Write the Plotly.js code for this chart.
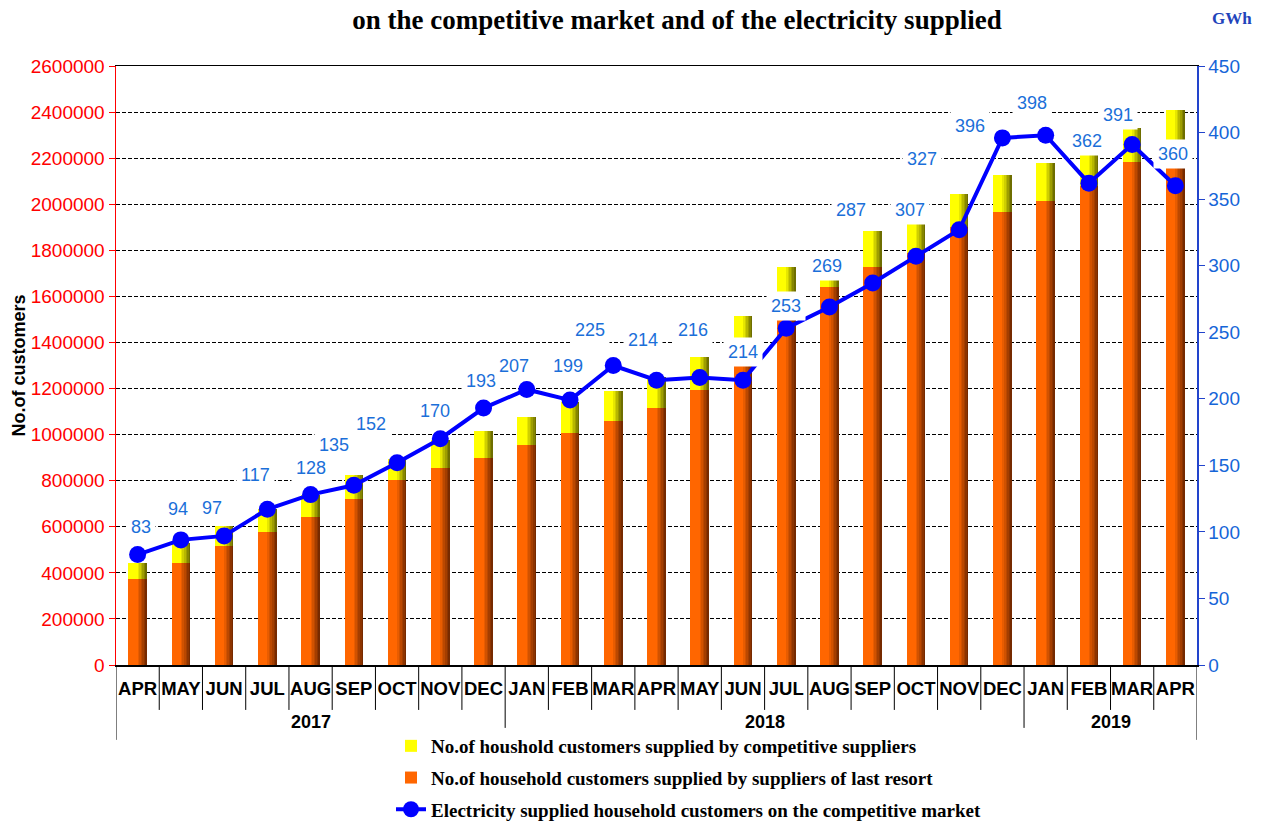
<!DOCTYPE html>
<html>
<head>
<meta charset="utf-8">
<script src="https://cdn.plot.ly/plotly-3.0.1.min.js"></script>
<style>html,body{margin:0;padding:0;background:#fff;}#chart{width:1264px;height:823px;}</style>
</head>
<body>
<div id="chart"></div>
<script>
// ---- data ----
const months = ["APR","MAY","JUN","JUL","AUG","SEP","OCT","NOV","DEC","JAN","FEB","MAR","APR","MAY","JUN","JUL","AUG","SEP","OCT","NOV","DEC","JAN","FEB","MAR","APR"];
const years = ["2017","2017","2017","2017","2017","2017","2017","2017","2017",
               "2018","2018","2018","2018","2018","2018","2018","2018","2018","2018","2018","2018",
               "2019","2019","2019","2019"];
// household customers supplied by suppliers of last resort
const lastResort = [373000,443000,518000,577000,644000,722000,803000,856000,900000,
                    955000,1007000,1059000,1115000,1195000,1370000,1575000,1639000,1729000,1790000,1900000,1966000,
                    2015000,2080000,2185000,2260000];
// total household customers (last resort + competitive)
const totalCustomers = [444000,530000,603000,675000,740000,825000,895000,975000,1016000,
                        1076000,1140000,1189000,1250000,1337000,1515000,1729000,1760000,1884000,1914000,2044000,2127000,
                        2180000,2213000,2332000,2409000];
// electricity supplied to household customers on the competitive market, GWh
const electricityGWh = [83,94,97,117,128,135,152,170,193,207,199,225,214,216,214,253,269,287,307,327,396,398,362,391,360];

// ---- style (label placement offsets, px) ----
const labelShift = [[3,28],[-3,31],[-12,28],[-12,34],[0,27],[-20,40],[-26,39],[-5,28],[-3,27],
                    [-13,23],[-2,34],[-23,36],[-14,40],[-7,47],[0,28],[0,22],[-2,41],[-22,73],[-6,46],[-37,71],[-32,12],
                    [-14,32],[-2,42],[-14,30],[-2,32]];

const keys = months.map((m,i)=>m+" "+years[i]);
const competitive = totalCustomers.map((t,i)=>t-lastResort[i]);

const W = 0.43;
const N = 6;
function lerp(c0,c1,t){return 'rgb('+c0.map((v,i)=>Math.round(v+(c1[i]-v)*t)).join(',')+')';}
function gradientBars(y, base, c0, c1, name, rank, group){
  const tr = [];
  tr.push({type:'bar', x:keys, y:y, base:base, name:name, width:W, offset:-W/2,
           marker:{color:lerp(c0,c1,0), line:{width:0}}, legendrank:rank, legendgroup:group,
           hoverinfo:'y'});
  for(let k=1;k<=N;k++){
    const start = 0.5 + 0.5*(k-1)/N;
    tr.push({type:'bar', x:keys, y:y, base:base, width:W*(1-start), offset:-W/2+W*start,
             marker:{color:lerp(c0,c1,k/N), line:{width:0}}, showlegend:false, hoverinfo:'skip',
             legendgroup:group});
  }
  return tr;
}

const traces = [];
traces.push(...gradientBars(lastResort, lastResort.map(()=>0), [255,102,0], [118,42,0],
  "No.of household customers supplied by suppliers of last resort", 2, 'g2'));
traces.push(...gradientBars(competitive, lastResort, [255,255,0], [110,110,0],
  "No.of houshold customers supplied by competitive suppliers", 1, 'g1'));
traces.push({type:'scatter', mode:'lines+markers', x:keys, y:electricityGWh, yaxis:'y2',
  name:"Electricity supplied household customers on the competitive market",
  line:{color:'#0000FF', width:4}, marker:{color:'#0000FF', size:17}, legendrank:3, legendgroup:'g3'});

// separators under the category axis
const shapes = [];
const n = keys.length;
for(let i=0;i<=n;i++){
  let y1 = -0.075;
  if(i===0 || i===n) y1 = -0.125;
  else if(years[i]!==years[i-1]) y1 = -0.105;
  shapes.push({type:'line', xref:'x', yref:'paper', x0:i-0.5, x1:i-0.5, y0:0, y1:y1,
               line:{color:'#000', width:1}});
}

const annotations = [];
// year labels
const uniqYears = [...new Set(years)];
uniqYears.forEach(yr=>{
  const first = years.indexOf(yr), last = years.lastIndexOf(yr);
  annotations.push({xref:'x', yref:'paper', x:(first+last)/2, y:-0.095, text:yr, showarrow:false,
    yanchor:'middle', font:{family:'Liberation Sans, Arial, sans-serif', size:18, weight:'bold', color:'#000'}});
});
// data labels of the line
electricityGWh.forEach((v,i)=>{
  annotations.push({xref:'x', yref:'y2', x:i, y:v, text:String(v), showarrow:false,
    xshift:labelShift[i][0], yshift:labelShift[i][1], bgcolor:'#FFFFFF', borderpad:4,
    font:{family:'Liberation Sans, Arial, sans-serif', size:18, color:'#1B6FD9'}});
});
annotations.push({xref:'paper', yref:'paper', x:1.0324, y:1.08, text:'GWh', showarrow:false,
  xanchor:'center', yanchor:'middle',
  font:{family:'Liberation Serif, Times New Roman, serif', size:17, weight:'bold', color:'#2244BB'}});

const layout = {
  width:1264, height:823,
  margin:{l:116, r:67, t:66, b:158, autoexpand:false},
  paper_bgcolor:'#fff', plot_bgcolor:'#fff',
  barmode:'overlay', bargap:0,
  showlegend:true,
  title:{text:'on the competitive market and of the electricity supplied', xref:'container', yref:'container',
         x:0.5356, y:0.976, xanchor:'center', yanchor:'middle', automargin:false,
         font:{family:'Liberation Serif, Times New Roman, serif', size:27, weight:'bold', color:'#000'}},
  xaxis:{type:'category', range:[-0.5, n-0.5], tickvals:keys, ticktext:months, ticks:'', tickangle:0,
         ticklabelstandoff:6, showline:true, linecolor:'#000', linewidth:1.5, mirror:true, showgrid:false,
         automargin:false,
         tickfont:{family:'Liberation Sans, Arial, sans-serif', size:18.5, weight:'bold', color:'#000'}},
  yaxis:{range:[0,2600000], dtick:200000, tickformat:'d', showline:true, linecolor:'#FF0000', linewidth:1.5,
         ticks:'outside', ticklen:6, tickcolor:'#FF0000', showgrid:true, gridcolor:'#000', gridwidth:1,
         griddash:'4px,2px', zeroline:false, automargin:false,
         tickfont:{family:'Liberation Sans, Arial, sans-serif', size:19, color:'#FF0000'},
         title:{text:'No.of customers', standoff:0,
                font:{family:'Liberation Sans, Arial, sans-serif', size:18, weight:'bold', color:'#000'}}},
  yaxis2:{range:[0,450], dtick:50, overlaying:'y', side:'right', showline:true, linecolor:'#2244CC', linewidth:1.5,
          ticks:'outside', ticklen:6, tickcolor:'#2244CC', showgrid:false, zeroline:false, automargin:false,
          tickfont:{family:'Liberation Sans, Arial, sans-serif', size:19, color:'#1565D8'}},
  legend:{orientation:'v', x:0.2544, y:-0.1035, xanchor:'left', yanchor:'top', traceorder:'grouped',
          tracegroupgap:4, bgcolor:'rgba(0,0,0,0)',
          font:{family:'Liberation Serif, Times New Roman, serif', size:19, weight:'bold', color:'#000'}},
  shapes:shapes,
  annotations:annotations
};

Plotly.newPlot('chart', traces, layout, {displayModeBar:false, staticPlot:true});
</script>
</body>
</html>
